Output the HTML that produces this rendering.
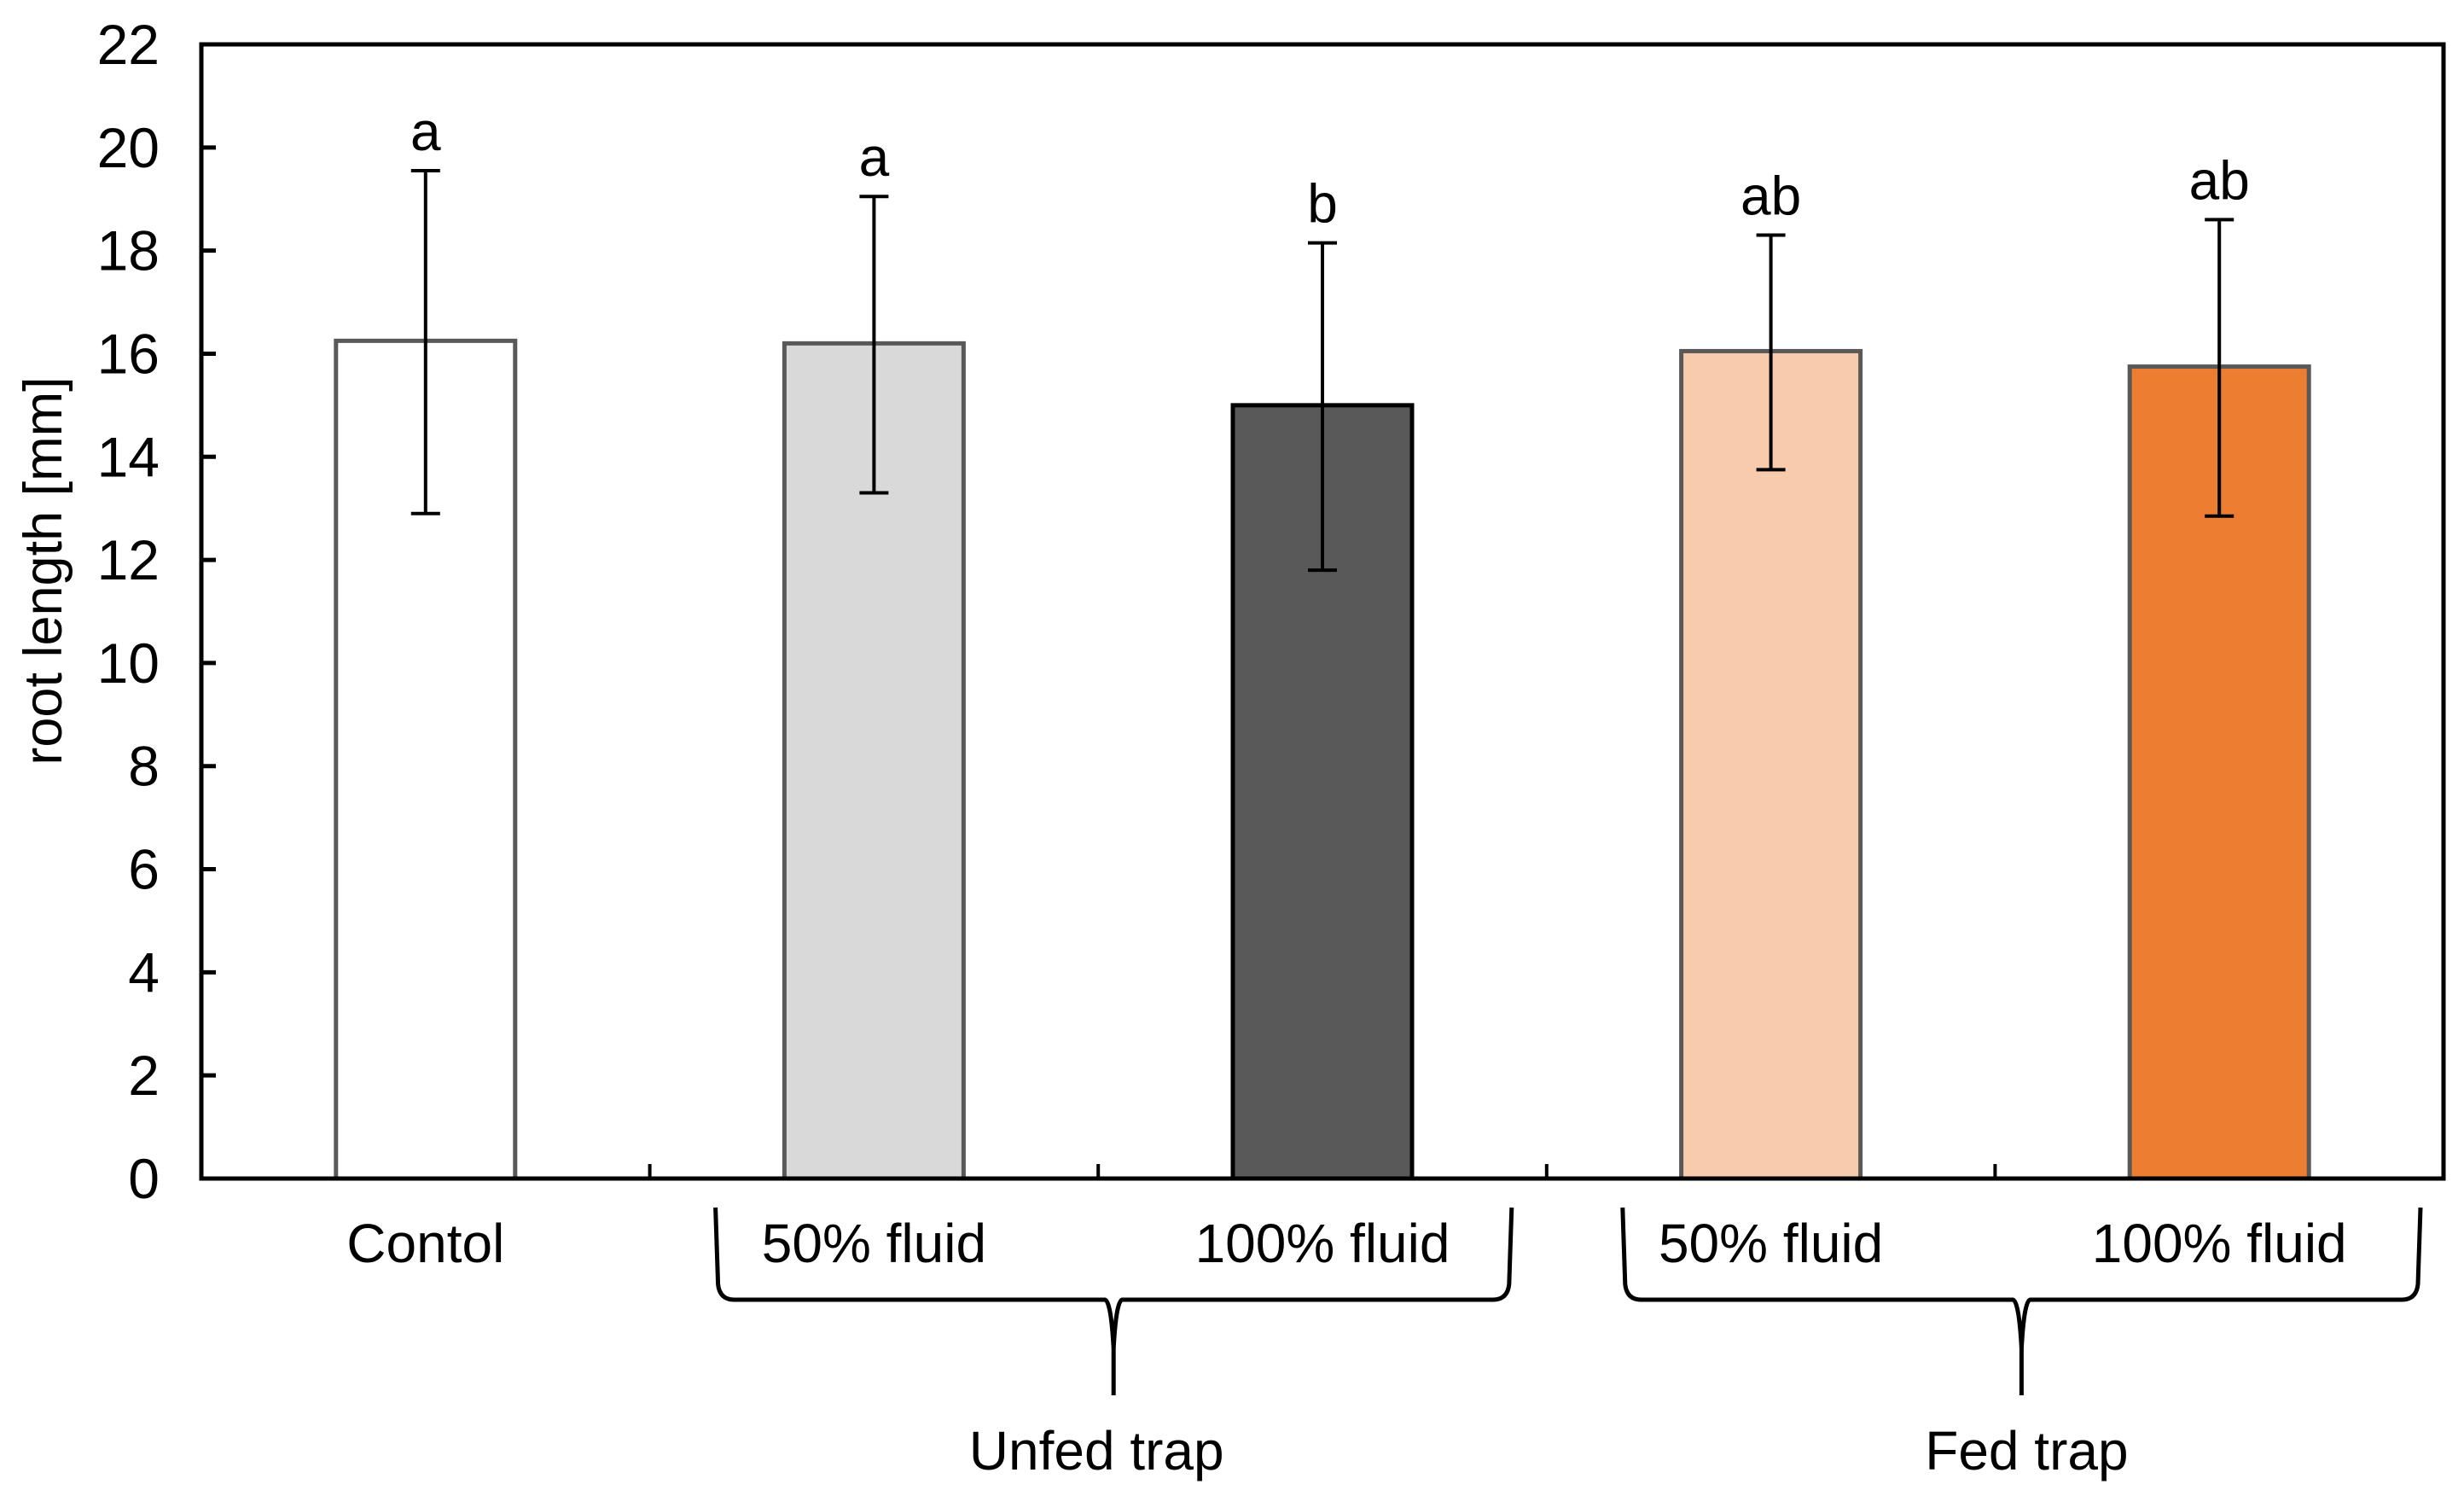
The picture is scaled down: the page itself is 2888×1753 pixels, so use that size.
<!DOCTYPE html>
<html><head><meta charset="utf-8"><style>
html,body{margin:0;padding:0;background:#fff;}
svg{display:block;}
text{font-family:"Liberation Sans",Arial,sans-serif;fill:#000;}
</style></head><body>
<svg id="chart" width="2888" height="1753" viewBox="0 0 2888 1753" xmlns="http://www.w3.org/2000/svg">
<g id="bars"></g>
<g id="errs"></g>
<g id="axes"></g>
<g id="labels"></g>
</svg>
<script>
const categories = ["Contol","50% fluid","100% fluid","50% fluid","100% fluid"];
const values = [16.25, 16.2, 15.0, 16.05, 15.75];
const errUpper = [19.55, 19.05, 18.15, 18.3, 18.6];
const errLower = [12.9, 13.3, 11.8, 13.75, 12.85];
const letters = ["a","a","b","ab","ab"];
const yTicks = [0,2,4,6,8,10,12,14,16,18,20,22];
const groups = ["Unfed trap","Fed trap"];
const groupStart = [1, 3];

const fills = ["#ffffff","#d9d9d9","#595959","#f8cbad","#ed7d31"];
const strokes = ["#595959","#595959","#000000","#595959","#595959"];
const NS="http://www.w3.org/2000/svg";
const L=236,R=2864,T=52,B=1381,YMAX=22;
const catW=(R-L)/categories.length, barW=210;
const y=v=>B-(v/YMAX)*(B-T);
const xc=i=>L+catW*(i+0.5);
function mk(tag,attrs,parent,txt){const e=document.createElementNS(NS,tag);for(const k in attrs)e.setAttribute(k,attrs[k]);if(txt!==undefined)e.textContent=txt;parent.appendChild(e);return e;}
const gB=document.getElementById('bars'),gE=document.getElementById('errs'),gA=document.getElementById('axes'),gL=document.getElementById('labels');

categories.forEach((c,i)=>{
  const r=mk('rect',{x:xc(i)-barW/2,y:y(values[i]),width:barW,height:B-y(values[i]),fill:fills[i],stroke:strokes[i],'stroke-width':5},gB);
  
  
  const e=mk('path',{d:`M${xc(i)},${y(errUpper[i])}V${y(errLower[i])}M${xc(i)-17},${y(errUpper[i])}H${xc(i)+17}M${xc(i)-17},${y(errLower[i])}H${xc(i)+17}`,stroke:'#000','stroke-width':4,fill:'none'},gE);
  
  
  const t=mk('text',{x:xc(i),y:y(errUpper[i])-24,'font-size':64,'text-anchor':'middle'},gL,letters[i]);
  
  
  const cl=mk('text',{x:xc(i),y:1479,'font-size':64,'text-anchor':'middle'},gL,c);
  
  
});

const frame=mk('rect',{x:L,y:T,width:R-L,height:B-T,fill:'none',stroke:'#000','stroke-width':5},gA);


yTicks.forEach(v=>{
  const tk=mk('line',{x1:L,x2:L+17,y1:y(v),y2:y(v),stroke:'#000','stroke-width':5},gA);
  
  
  const tl=mk('text',{x:187,y:y(v)+23,'font-size':66,'text-anchor':'end'},gL,String(v));
  
  
});
for(let i=1;i<categories.length;i++){
  const tk=mk('line',{x1:L+catW*i,x2:L+catW*i,y1:B,y2:B-17,stroke:'#000','stroke-width':4},gA);
  
  
}
const braceLeftPad=[77,89], braceRightPad=[41,27], labelShift=[-20,6];
groups.forEach((g,k)=>{
  const i=groupStart[k];
  const x1=L+catW*i+braceLeftPad[k], x2=L+catW*(i+2)-braceRightPad[k], mid=(x1+x2)/2;
  const d=`M${x1},1415 L${x1+3},1505 Q${x1+5},1523 ${x1+22},1523 L${mid-10},1523 Q${mid-3},1525 ${mid},1580 L${mid},1635 M${mid},1580 Q${mid+3},1525 ${mid+10},1523 L${x2-22},1523 Q${x2-5},1523 ${x2-3},1505 L${x2},1415`;
  const br=mk('path',{d:d,stroke:'#000','stroke-width':5,fill:'none'},gA);
  
  
  const gl=mk('text',{x:mid+labelShift[k],y:1722,'font-size':64,'text-anchor':'middle'},gL,g);
  
  
});
const yl=mk('text',{x:0,y:0,'font-size':63,'text-anchor':'middle',transform:'translate(72,669) rotate(-90)'},gL,'root length [mm]');


</script>
</body></html>
